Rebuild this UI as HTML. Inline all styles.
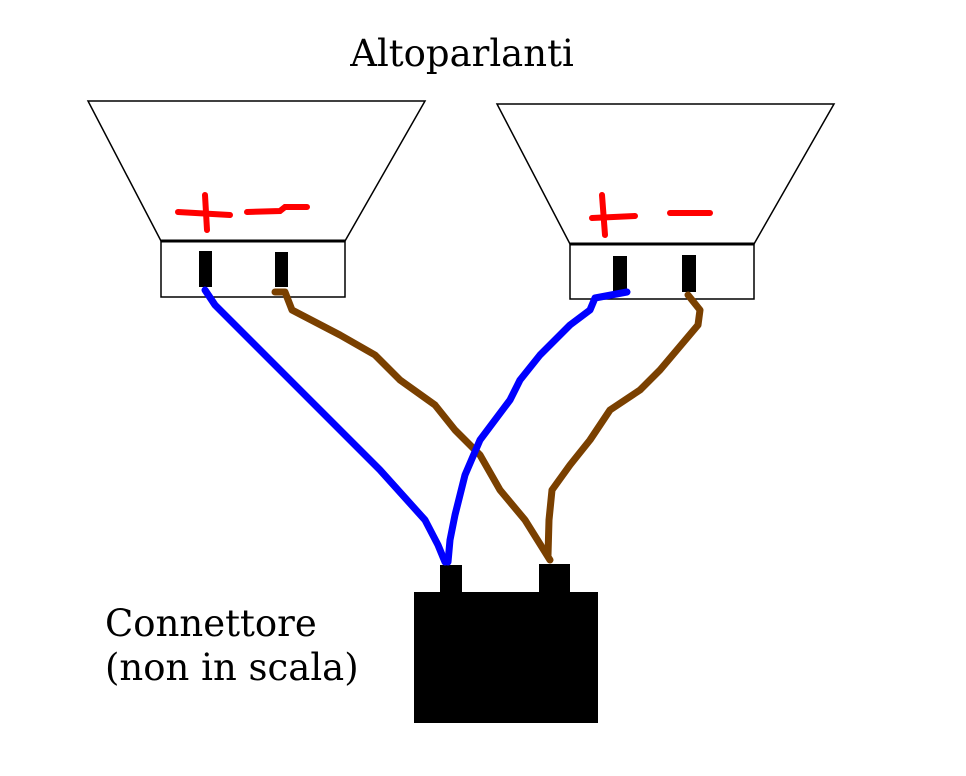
<!DOCTYPE html>
<html><head><meta charset="utf-8"><style>
html,body{margin:0;padding:0;background:#fff;}
svg{display:block;}
text{font-family:"DejaVu Serif","Liberation Serif",serif;font-size:37px;fill:#000;}
</style></head><body>
<svg width="966" height="776" viewBox="0 0 966 776" xmlns="http://www.w3.org/2000/svg">
<rect width="966" height="776" fill="#fff"/>
<text x="462" y="66" text-anchor="middle">Altoparlanti</text>
<text x="105" y="636">Connettore</text>
<text x="105" y="680">(non in scala)</text>

<polygon points="88,101 425,101 345,241 161,241" fill="none" stroke="#000" stroke-width="1.5"/>
<rect x="161" y="241" width="184" height="56" fill="none" stroke="#000" stroke-width="1.5"/>
<line x1="161" y1="241" x2="345" y2="241" stroke="#000" stroke-width="3"/>
<rect x="199" y="251" width="13" height="36" fill="#000"/>
<rect x="275" y="252" width="13" height="35" fill="#000"/>

<polygon points="497,104 834,104 754,244 570,244" fill="none" stroke="#000" stroke-width="1.5"/>
<rect x="570" y="244" width="184" height="55" fill="none" stroke="#000" stroke-width="1.5"/>
<line x1="570" y1="244" x2="754" y2="244" stroke="#000" stroke-width="3"/>
<rect x="613" y="256" width="14" height="36" fill="#000"/>
<rect x="682" y="255" width="14" height="37" fill="#000"/>

<rect x="414" y="592" width="184" height="131" fill="#000"/>
<rect x="440" y="565" width="22" height="30" fill="#000"/>
<rect x="539" y="564" width="31" height="30" fill="#000"/>

<g stroke="#f00" stroke-width="6" stroke-linecap="round" fill="none">
<path d="M178,212 L230,215"/>
<path d="M205,195 L207,230"/>
<path d="M247,212 L280,211 L285,207 L307,207"/>
<path d="M592,218 L635,216"/>
<path d="M602,195 L605,235"/>
<path d="M670,213 L710,213"/>
</g>

<g fill="none" stroke-width="7" stroke-linecap="round" stroke-linejoin="round">
<path stroke="#0000ff" d="M205,290 L215,305 L280,370 L320,410 L340,430 L380,470 L425,520 L438,545 L445,562"/>
<path stroke="#7a4000" d="M275,292 L285,292 L292,310 L340,335 L375,355 L400,380 L435,405 L455,430 L480,455 L500,490 L525,520 L550,560"/>
<path stroke="#0000ff" d="M627,292 L595,298 L590,310 L570,325 L540,355 L520,380 L510,400 L480,440 L465,475 L455,515 L450,540 L448,562"/>
<path stroke="#7a4000" d="M688,295 L700,310 L698,325 L660,370 L640,390 L610,410 L590,440 L570,465 L552,490 L549,520 L548,555"/>
</g>
</svg>
</body></html>
